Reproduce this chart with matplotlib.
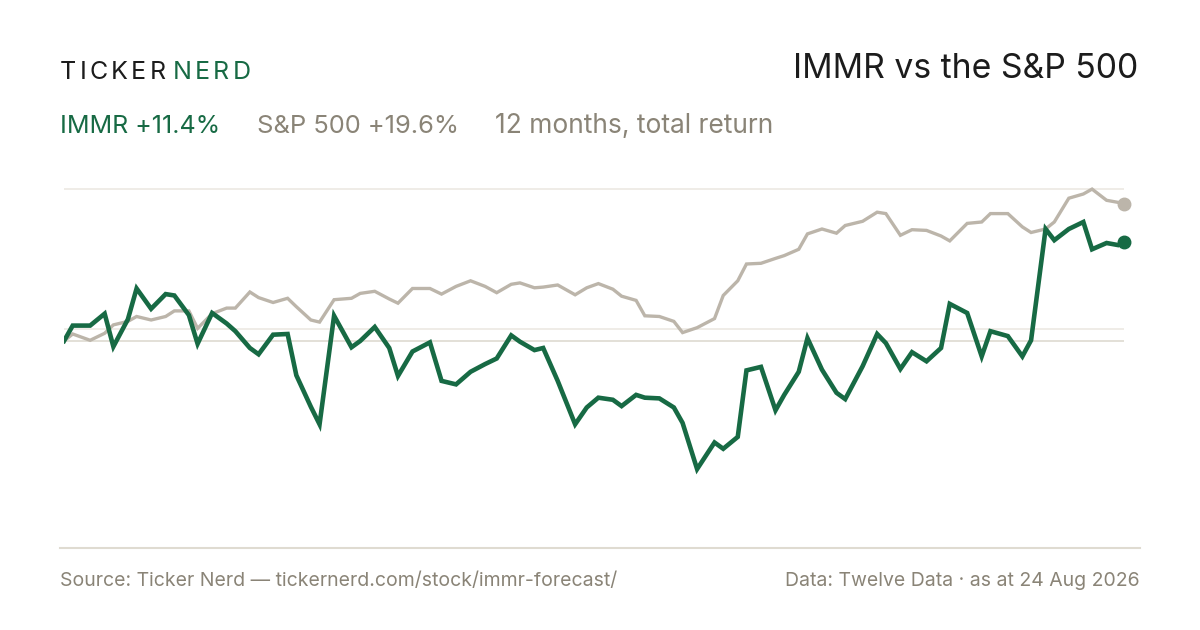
import matplotlib
matplotlib.use("Agg")
import matplotlib.pyplot as plt
from matplotlib.transforms import IdentityTransform
import numpy as np

plt.rcParams['font.family'] = ['Inter', 'DejaVu Sans']

# days since 24 Aug 2025 (roughly every third trading day)
days = [0, 3, 9, 14, 17, 22, 25, 30, 35, 38, 43, 46, 51, 56, 59, 64, 67, 72,
        77, 80, 85, 88, 93, 99, 102, 107, 112, 115, 120, 126, 130, 135, 140,
        145, 149, 154, 157, 162, 165, 170, 176, 180, 184, 189, 192, 197, 200,
        205, 210, 213, 218, 224, 227, 232, 235, 240, 245, 248, 253, 256, 261,
        266, 269, 275, 280, 283, 288, 292, 297, 302, 305, 311, 316, 319, 325,
        330, 333, 338, 341, 346, 351, 354, 359, 363, 365]

# cumulative total return, %
immr = [0.0, 2.2, 2.2, 3.9, -0.8, 3.1, 7.5, 4.6, 6.7, 6.5, 3.7, -0.4, 4.0,
        2.5, 1.4, -1.0, -1.9, 0.9, 1.0, -4.9, -9.4, -11.9, 3.6, -0.9, 0.0,
        2.0, -1.0, -5.0, -1.5, -0.2, -5.7, -6.2, -4.4, -3.3, -2.5, 0.8, -0.1,
        -1.3, -1.0, -5.7, -11.9, -9.5, -8.1, -8.4, -9.3, -7.7, -8.1, -8.2,
        -9.5, -11.7, -18.3, -14.5, -15.4, -13.7, -4.2, -3.7, -9.9, -7.7,
        -4.4, 0.4, -4.1, -7.4, -8.3, -3.6, 1.0, -0.3, -4.0, -1.6, -2.9, -1.0,
        5.3, 4.0, -2.2, 1.4, 0.7, -2.2, 0.1, 16.0, 14.4, 16.0, 17.0, 13.1,
        14.0, 13.7, 14.2]

spx = [0.0, 1.0, 0.1, 1.1, 2.3, 2.8, 3.5, 3.0, 3.5, 4.3, 4.3, 1.8, 3.9, 4.7,
       4.7, 7.0, 6.2, 5.5, 6.1, 4.9, 3.0, 2.7, 5.9, 6.1, 6.8, 7.1, 6.0, 5.4,
       7.5, 7.5, 6.7, 7.8, 8.6, 7.8, 6.9, 8.1, 8.3, 7.6, 7.7, 8.0, 6.6, 7.6,
       8.2, 7.4, 6.4, 5.8, 3.6, 3.5, 2.8, 1.2, 1.9, 3.2, 6.5, 8.6, 11.0,
       11.1, 11.8, 12.2, 13.1, 15.3, 16.0, 15.4, 16.5, 17.1, 18.4, 18.2,
       15.1, 15.9, 15.8, 15.0, 14.3, 16.8, 17.0, 18.2, 18.2, 16.3, 15.5,
       16.0, 17.0, 20.4, 21.0, 21.7, 20.1, 19.8, 19.6]

grid_levels = [1.7, 21.7]

GREEN = "#176a44"
SAND = "#bcb5aa"
TEXT_GREY = "#8a8477"
INK = "#1c1c1c"

W, H = 1200, 630
fig = plt.figure(figsize=(W / 100, H / 100), dpi=100)
fig.patch.set_facecolor("white")

# plot area: x 64..1124 px, y 180..480 px (from top)
ax = fig.add_axes([64 / W, 1 - 480 / H, 1060 / W, 300 / H])
ax.set_xlim(0, 365)
ax.set_ylim(-19.86, 23.0)
ax.axis("off")

for g in grid_levels:
    ax.axhline(g, color="#ece9e3", lw=1.2, zorder=1)
ax.axhline(spx[0], color="#dedad1", lw=1.2, zorder=1)

ax.plot(days, spx, color=SAND, lw=2.4, solid_joinstyle="miter", zorder=2)
ax.plot(days, immr, color=GREEN, lw=3.3, solid_joinstyle="miter", zorder=3)
ax.plot(days[-1], spx[-1], "o", ms=9, color=SAND, clip_on=False, zorder=4)
ax.plot(days[-1], immr[-1], "o", ms=9, color=GREEN, clip_on=False, zorder=5)

px = IdentityTransform()


def spaced(x, y, s, color, size, track):
    """draw text with letter spacing, x/y in pixels from top-left"""
    r = fig.canvas.get_renderer()
    for ch in s:
        t = fig.text(x, H - y, ch, color=color, fontsize=size,
                     transform=px, va="baseline", ha="left")
        w = t.get_window_extent(r).width
        x += w + track
    return x


x = spaced(60, 79, "TICKER", INK, 18, 3.2)
spaced(x + 4, 79, "NERD", GREEN, 18, 3.2)

fig.text(1138, H - 78, "IMMR vs the S&P 500", color=INK, fontsize=24.3,
         transform=px, ha="right", va="baseline")

fig.text(60, H - 133, "IMMR +11.4%", color=GREEN, fontsize=18,
         transform=px, va="baseline")
fig.text(257, H - 133, "S&P 500 +19.6%", color=TEXT_GREY, fontsize=18.4,
         transform=px, va="baseline")
fig.text(495, H - 133, "12 months, total return", color=TEXT_GREY,
         fontsize=19, transform=px, va="baseline")

fig.add_artist(plt.Line2D([60, 1140], [H - 548, H - 548], transform=px,
                          color="#dfdbd1", lw=1.5))

fig.text(60, H - 586, "Source: Ticker Nerd \u2014 tickernerd.com/stock/immr-forecast/",
         color=TEXT_GREY, fontsize=14, transform=px, va="baseline")
fig.text(1140, H - 586, "Data: Twelve Data \u00b7 as at 24 Aug 2026",
         color=TEXT_GREY, fontsize=14, transform=px, ha="right",
         va="baseline")

fig.savefig("out.png", dpi=100, facecolor="white")
